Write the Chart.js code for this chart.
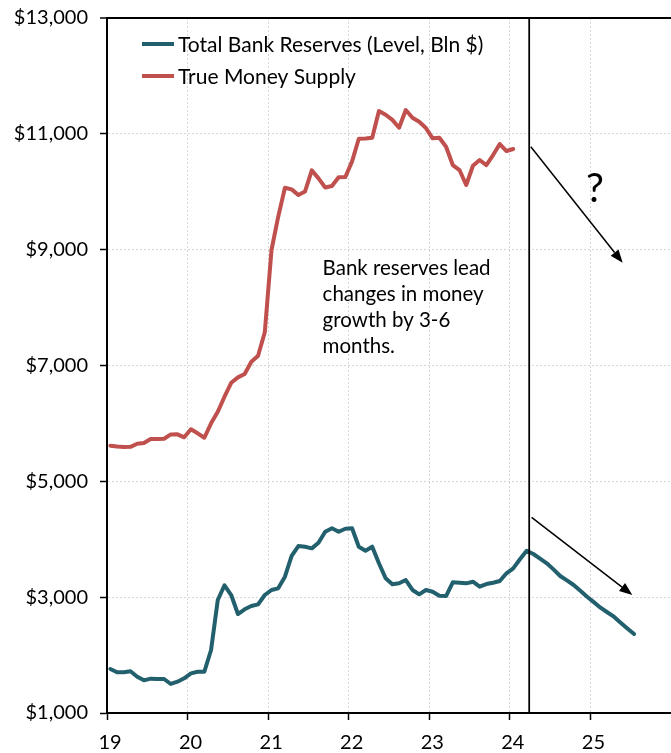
<!DOCTYPE html>
<html>
<head>
<meta charset="utf-8">
<script src="https://cdn.jsdelivr.net/npm/chart.js@4.4.1/dist/chart.umd.min.js"></script>
<style>
  html, body { margin: 0; padding: 0; background: #fff; }
  #wrap { width: 671px; height: 753px; position: relative; }
</style>
</head>
<body>
<div id="wrap"><canvas id="c"></canvas></div>
<script>
// Monthly observations, Jan 2019 onward
const months = [
  '2019-01','2019-02','2019-03','2019-04','2019-05','2019-06','2019-07','2019-08','2019-09','2019-10','2019-11','2019-12',
  '2020-01','2020-02','2020-03','2020-04','2020-05','2020-06','2020-07','2020-08','2020-09','2020-10','2020-11','2020-12',
  '2021-01','2021-02','2021-03','2021-04','2021-05','2021-06','2021-07','2021-08','2021-09','2021-10','2021-11','2021-12',
  '2022-01','2022-02','2022-03','2022-04','2022-05','2022-06','2022-07','2022-08','2022-09','2022-10','2022-11','2022-12',
  '2023-01','2023-02','2023-03','2023-04','2023-05','2023-06','2023-07','2023-08','2023-09','2023-10','2023-11','2023-12',
  '2024-01','2024-02','2024-03','2024-04','2024-05','2024-06','2024-07','2024-08','2024-09','2024-10','2024-11','2024-12',
  '2025-01','2025-02','2025-03','2025-04','2025-05','2025-06','2025-07'
];

// Total bank reserves, $bn (through Mar 2024, then the projected path)
const bankReserves = [
  1760, 1703, 1703, 1720, 1627, 1564, 1593, 1587, 1587, 1501, 1541, 1599,
  1685, 1713, 1713, 2088, 2951, 3205, 3037, 2709, 2790, 2847, 2876, 3037,
  3124, 3152, 3353, 3711, 3883, 3871, 3843, 3940, 4130, 4189, 4130, 4182,
  4189, 3871, 3802, 3871, 3585, 3326, 3222, 3239, 3296, 3124, 3049, 3124,
  3094, 3025, 3020, 3256, 3250, 3239, 3267, 3181, 3227, 3250, 3279, 3412,
  3498, 3654, 3802, 3745, 3665, 3585, 3480, 3365, 3290, 3210, 3110, 3008,
  2915, 2818, 2740, 2663, 2560, 2460, 2364
];

// True money supply, $bn
const moneySupply = [
  5615, 5600, 5593, 5595, 5650, 5662, 5731, 5733, 5736, 5810, 5812, 5760,
  5898, 5829, 5753, 6002, 6202, 6461, 6702, 6795, 6853, 7065, 7169, 7573,
  8994, 9569, 10069, 10041, 9943, 10005, 10370, 10231, 10073, 10100, 10250, 10255,
  10525, 10915, 10920, 10933, 11394, 11330, 11240, 11106, 11411, 11278, 11209, 11100,
  10922, 10933, 10777, 10461, 10375, 10116, 10449, 10548, 10461, 10634, 10824, 10703,
  10738
];

const seriesNames = ['Total Bank Reserves (Level, Bln $)', 'True Money Supply'];
const seriesColors = ['#22606D', '#C0504D'];

const yTicks = [1000, 3000, 5000, 7000, 9000, 11000, 13000];
const xTickLabels = ['19', '20', '21', '22', '23', '24', '25'];

// Annotation content (positions in axis units)
const cutoffYear = 24.24;
const noteLines = ['Bank reserves lead', 'changes in money', 'growth by 3-6', 'months.'];
const noteAt = { x: 21.676, y: 8560 };
const questionMark = { text: '?', x: 25.055, y: 9820 };
const arrows = [
  { from: [24.26, 10777], to: [25.40, 8774] },
  { from: [24.27, 4379], to: [25.52, 3037] }
];

const FONT = "Lato, 'Noto Sans', sans-serif";

// month string -> fractional two-digit year at mid-month
function monthToX(s) {
  const [yr, mo] = s.split('-').map(Number);
  return (yr - 2000) + (mo - 0.5) / 12;
}
function toPoints(values) {
  return values.map((v, i) => ({ x: monthToX(months[i]), y: v }));
}

const overlay = {
  id: 'overlay',
  afterDatasetsDraw(chart) {
    const { ctx, chartArea: a, scales: { x, y } } = chart;
    ctx.save();

    // cutoff marker
    const cx = x.getPixelForValue(cutoffYear);
    ctx.strokeStyle = '#000';
    ctx.lineWidth = 1.75;
    ctx.beginPath();
    ctx.moveTo(cx, a.top);
    ctx.lineTo(cx, a.bottom);
    ctx.stroke();

    // arrows
    arrows.forEach(ar => {
      const x1 = x.getPixelForValue(ar.from[0]), y1 = y.getPixelForValue(ar.from[1]);
      const x2 = x.getPixelForValue(ar.to[0]), y2 = y.getPixelForValue(ar.to[1]);
      const ang = Math.atan2(y2 - y1, x2 - x1);
      const head = 13, half = 5;
      const bx = x2 - head * Math.cos(ang), by = y2 - head * Math.sin(ang);
      ctx.strokeStyle = '#000';
      ctx.lineWidth = 1.5;
      ctx.beginPath();
      ctx.moveTo(x1, y1);
      ctx.lineTo(bx, by);
      ctx.stroke();
      ctx.fillStyle = '#000';
      ctx.beginPath();
      ctx.moveTo(x2, y2);
      ctx.lineTo(bx + half * Math.sin(ang), by - half * Math.cos(ang));
      ctx.lineTo(bx - half * Math.sin(ang), by + half * Math.cos(ang));
      ctx.closePath();
      ctx.fill();
    });

    // note text
    ctx.fillStyle = '#000';
    ctx.textAlign = 'left';
    ctx.textBaseline = 'alphabetic';
    ctx.font = '20.5px ' + FONT;
    const nx = x.getPixelForValue(noteAt.x), ny = y.getPixelForValue(noteAt.y);
    noteLines.forEach((t, i) => ctx.fillText(t, nx, ny + i * 26));

    // question mark
    ctx.font = '40px ' + FONT;
    ctx.textAlign = 'center';
    ctx.fillText(questionMark.text, x.getPixelForValue(questionMark.x), y.getPixelForValue(questionMark.y));

    // legend
    ctx.textAlign = 'left';
    ctx.textBaseline = 'middle';
    ctx.font = '21px ' + FONT;
    chart.data.datasets.forEach((ds, i) => {
      const ly = a.top + 26 + i * 32;
      const lx = a.left + 35;
      ctx.strokeStyle = ds.borderColor;
      ctx.lineWidth = 4;
      ctx.beginPath();
      ctx.moveTo(lx, ly);
      ctx.lineTo(lx + 32, ly);
      ctx.stroke();
      ctx.fillStyle = '#000';
      ctx.fillText(ds.label, lx + 36, ly + 1);
    });

    ctx.restore();
  }
};

new Chart(document.getElementById('c'), {
  type: 'line',
  data: {
    datasets: [
      {
        label: seriesNames[0],
        data: toPoints(bankReserves),
        borderColor: seriesColors[0],
        backgroundColor: seriesColors[0],
        borderWidth: 4,
        pointRadius: 0,
        tension: 0,
        borderJoinStyle: 'round',
        borderCapStyle: 'round'
      },
      {
        label: seriesNames[1],
        data: toPoints(moneySupply),
        borderColor: seriesColors[1],
        backgroundColor: seriesColors[1],
        borderWidth: 4,
        pointRadius: 0,
        tension: 0,
        borderJoinStyle: 'round',
        borderCapStyle: 'round'
      }
    ]
  },
  options: {
    responsive: true,
    maintainAspectRatio: false,
    animation: false,
    devicePixelRatio: 1,
    layout: { padding: { top: 18, right: 0, bottom: 0, left: 0 } },
    plugins: {
      legend: { display: false },
      tooltip: { enabled: false }
    },
    scales: {
      x: {
        type: 'linear',
        min: 19,
        max: 26,
        afterBuildTicks(scale) {
          scale.ticks = xTickLabels.map(v => ({ value: Number(v) }));
        },
        afterFit(scale) { scale.height = 40; },
        ticks: {
          autoSkip: false,
          maxRotation: 0,
          padding: 11,
          labelOffset: 3,
          color: '#000',
          font: { family: FONT, size: 20 },
          callback: (v) => String(v)
        },
        grid: {
          color: '#d6d6d6',
          lineWidth: 1,
          tickColor: '#000',
          tickLength: 7,
          tickWidth: 1.5,
          tickBorderDash: []
        },
        border: { display: true, color: '#000', width: 2, dash: [2, 2] }
      },
      y: {
        type: 'linear',
        min: 1000,
        max: 13000,
        afterBuildTicks(scale) {
          scale.ticks = yTicks.map(v => ({ value: v }));
        },
        afterFit(scale) {
          scale.width = 107;
          scale.paddingTop = 0;
        },
        ticks: {
          padding: 12,
          color: '#000',
          font: { family: FONT, size: 20 },
          callback: (v) => '$' + Number(v).toLocaleString('en-US')
        },
        grid: {
          color: (c) => (c.tick && c.tick.value === 13000) ? '#000' : '#d6d6d6',
          lineWidth: (c) => (c.tick && c.tick.value === 13000) ? 2 : 1,
          tickColor: '#000',
          tickLength: 7,
          tickWidth: 1.5,
          tickBorderDash: []
        },
        border: {
          display: true, color: '#000', width: 2,
          dash: (c) => (c.tick && c.tick.value === 13000) ? [] : [2, 2]
        }
      }
    }
  },
  plugins: [overlay]
});
</script>
</body>
</html>
